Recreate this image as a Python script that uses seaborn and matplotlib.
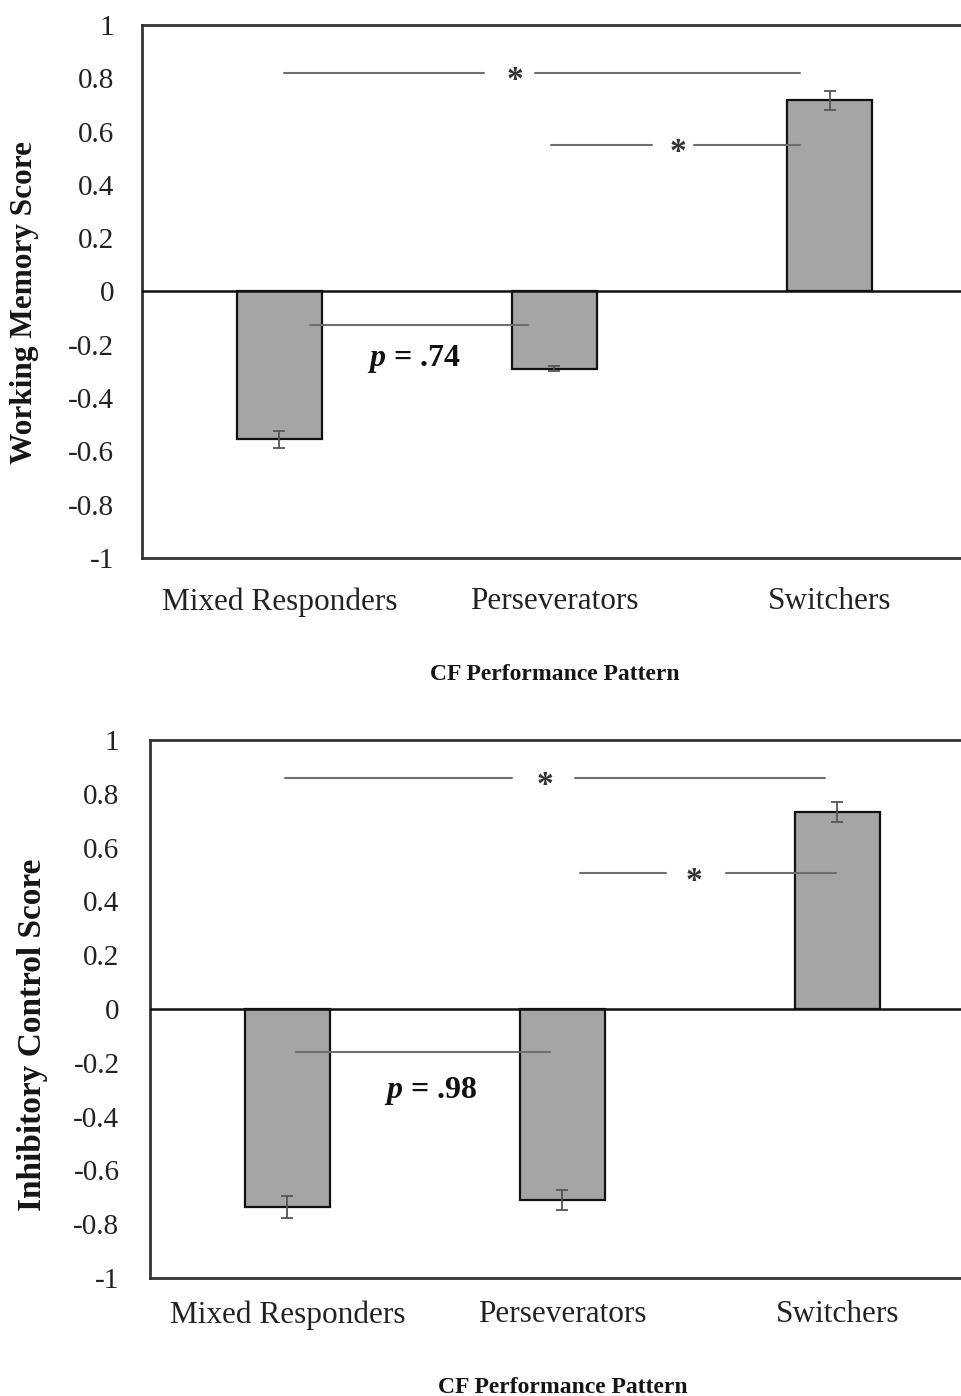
import matplotlib
matplotlib.use("Agg")
import matplotlib.pyplot as plt
import seaborn as sns
import numpy as np
import pandas as pd

categories = ["Mixed Responders", "Perseverators", "Switchers"]
wm_scores = [-0.555, -0.289, 0.717]
wm_err = [0.032, 0.010, 0.035]
ic_scores = [-0.736, -0.709, 0.733]
ic_err = [0.040, 0.037, 0.037]
ytick_vals = [1, 0.8, 0.6, 0.4, 0.2, 0, -0.2, -0.4, -0.6, -0.8, -1]
ytick_labels = ["1", "0.8", "0.6", "0.4", "0.2", "0", "-0.2", "-0.4", "-0.6", "-0.8", "-1"]

sns.set_theme(style="white")
plt.rcParams['font.family'] = ['Liberation Serif', 'DejaVu Serif']
plt.rcParams['mathtext.fontset'] = 'custom'
plt.rcParams['mathtext.it'] = 'Liberation Serif:italic:bold'
plt.rcParams['mathtext.rm'] = 'Liberation Serif:bold'
plt.rcParams['mathtext.bf'] = 'Liberation Serif:bold'

fig = plt.figure(figsize=(9.62, 13.96), dpi=100)

BAR_COLOR = "#a5a5a5"
ANN_COLOR = "#6e6e6e"
ERR_COLOR = "#555555"


def panel(ax, scores, errs, ylabel, ann, pos):
    df = pd.DataFrame({"cat": categories, "score": scores})
    sns.barplot(data=df, x="cat", y="score", ax=ax, color=BAR_COLOR,
                width=0.31, edgecolor="#111111", linewidth=1.6,
                errorbar=None, saturation=1)
    ax.errorbar(x=np.arange(len(categories)), y=scores, yerr=errs, fmt="none",
                ecolor=ERR_COLOR, elinewidth=1.3, capsize=4, capthick=1.3, zorder=5)
    ax.axhline(0, color="#111111", lw=1.8, zorder=4)
    ax.set_xlim(-0.5, 2.5)
    ax.set_ylim(-1, 1)
    ax.set_yticks(ytick_vals)
    ax.set_yticklabels(ytick_labels, fontsize=21)
    ax.set_xticks(range(len(categories)))
    ax.set_xticklabels(categories, fontsize=22.5, color="#222222")
    ax.tick_params(axis="y", length=0, pad=pos["ypad"], colors="#222222")
    ax.tick_params(axis="x", length=0, pad=pos["xpad"], colors="#222222")
    ax.set_ylabel(ylabel, fontsize=pos["ylsize"], fontweight="bold", color="#151515")
    ax.yaxis.set_label_coords(pos["ylx"], pos["yly"])
    ax.set_xlabel("CF Performance Pattern", fontsize=17, fontweight="bold",
                  labelpad=pos["xlpad"], color="#151515")
    for s in ["top", "left", "bottom"]:
        ax.spines[s].set_visible(True)
        ax.spines[s].set_color("#333333")
        ax.spines[s].set_linewidth(2.0)
    ax.spines["right"].set_visible(False)
    # annotations
    for (x0, x1, y) in ann["lines"]:
        ax.plot([x0, x1], [y, y], color=ANN_COLOR, lw=1.5, zorder=6)
    for (x, y) in ann["stars"]:
        ax.text(x, y, "*", ha="center", va="center", fontsize=24,
                fontweight="bold", color="#333333", zorder=7)
    px, py, ptxt = ann["p"]
    ax.text(px, py, r"$\mathit{p}$" + ptxt, ha="center", va="center",
            fontsize=23, fontweight="bold", color="#111111", zorder=7)


ax1 = fig.add_axes([0.1476, 0.6003, 0.8576, 0.3818])
ann1 = {
    "lines": [(0.016, 0.745, 0.82), (0.93, 1.894, 0.82),
              (0.988, 1.355, 0.55), (1.508, 1.894, 0.55),
              (0.11, 0.904, -0.125)],
    "stars": [(0.857, 0.79), (1.45, 0.52)],
    "p": (0.49, -0.255, " = .74"),
}
panel(ax1, wm_scores, wm_err, "Working Memory Score", ann1,
      {"xpad": 21, "ypad": 20, "ylx": -0.125, "yly": 0.48, "ylsize": 22.5,
       "xlpad": 34})

ax2 = fig.add_axes([0.1559, 0.0845, 0.8576, 0.3854])
ann2 = {
    "lines": [(-0.01, 0.816, 0.86), (1.045, 1.955, 0.86),
              (1.064, 1.376, 0.506), (1.595, 1.995, 0.506),
              (0.03, 0.955, -0.16)],
    "stars": [(0.936, 0.83), (1.48, 0.475)],
    "p": (0.52, -0.305, " = .98"),
}
panel(ax2, ic_scores, ic_err, "Inhibitory Control Score", ann2,
      {"xpad": 16, "ypad": 22, "ylx": -0.124, "yly": 0.452, "ylsize": 24,
       "xlpad": 34})

fig.savefig("out.png", dpi=100)
